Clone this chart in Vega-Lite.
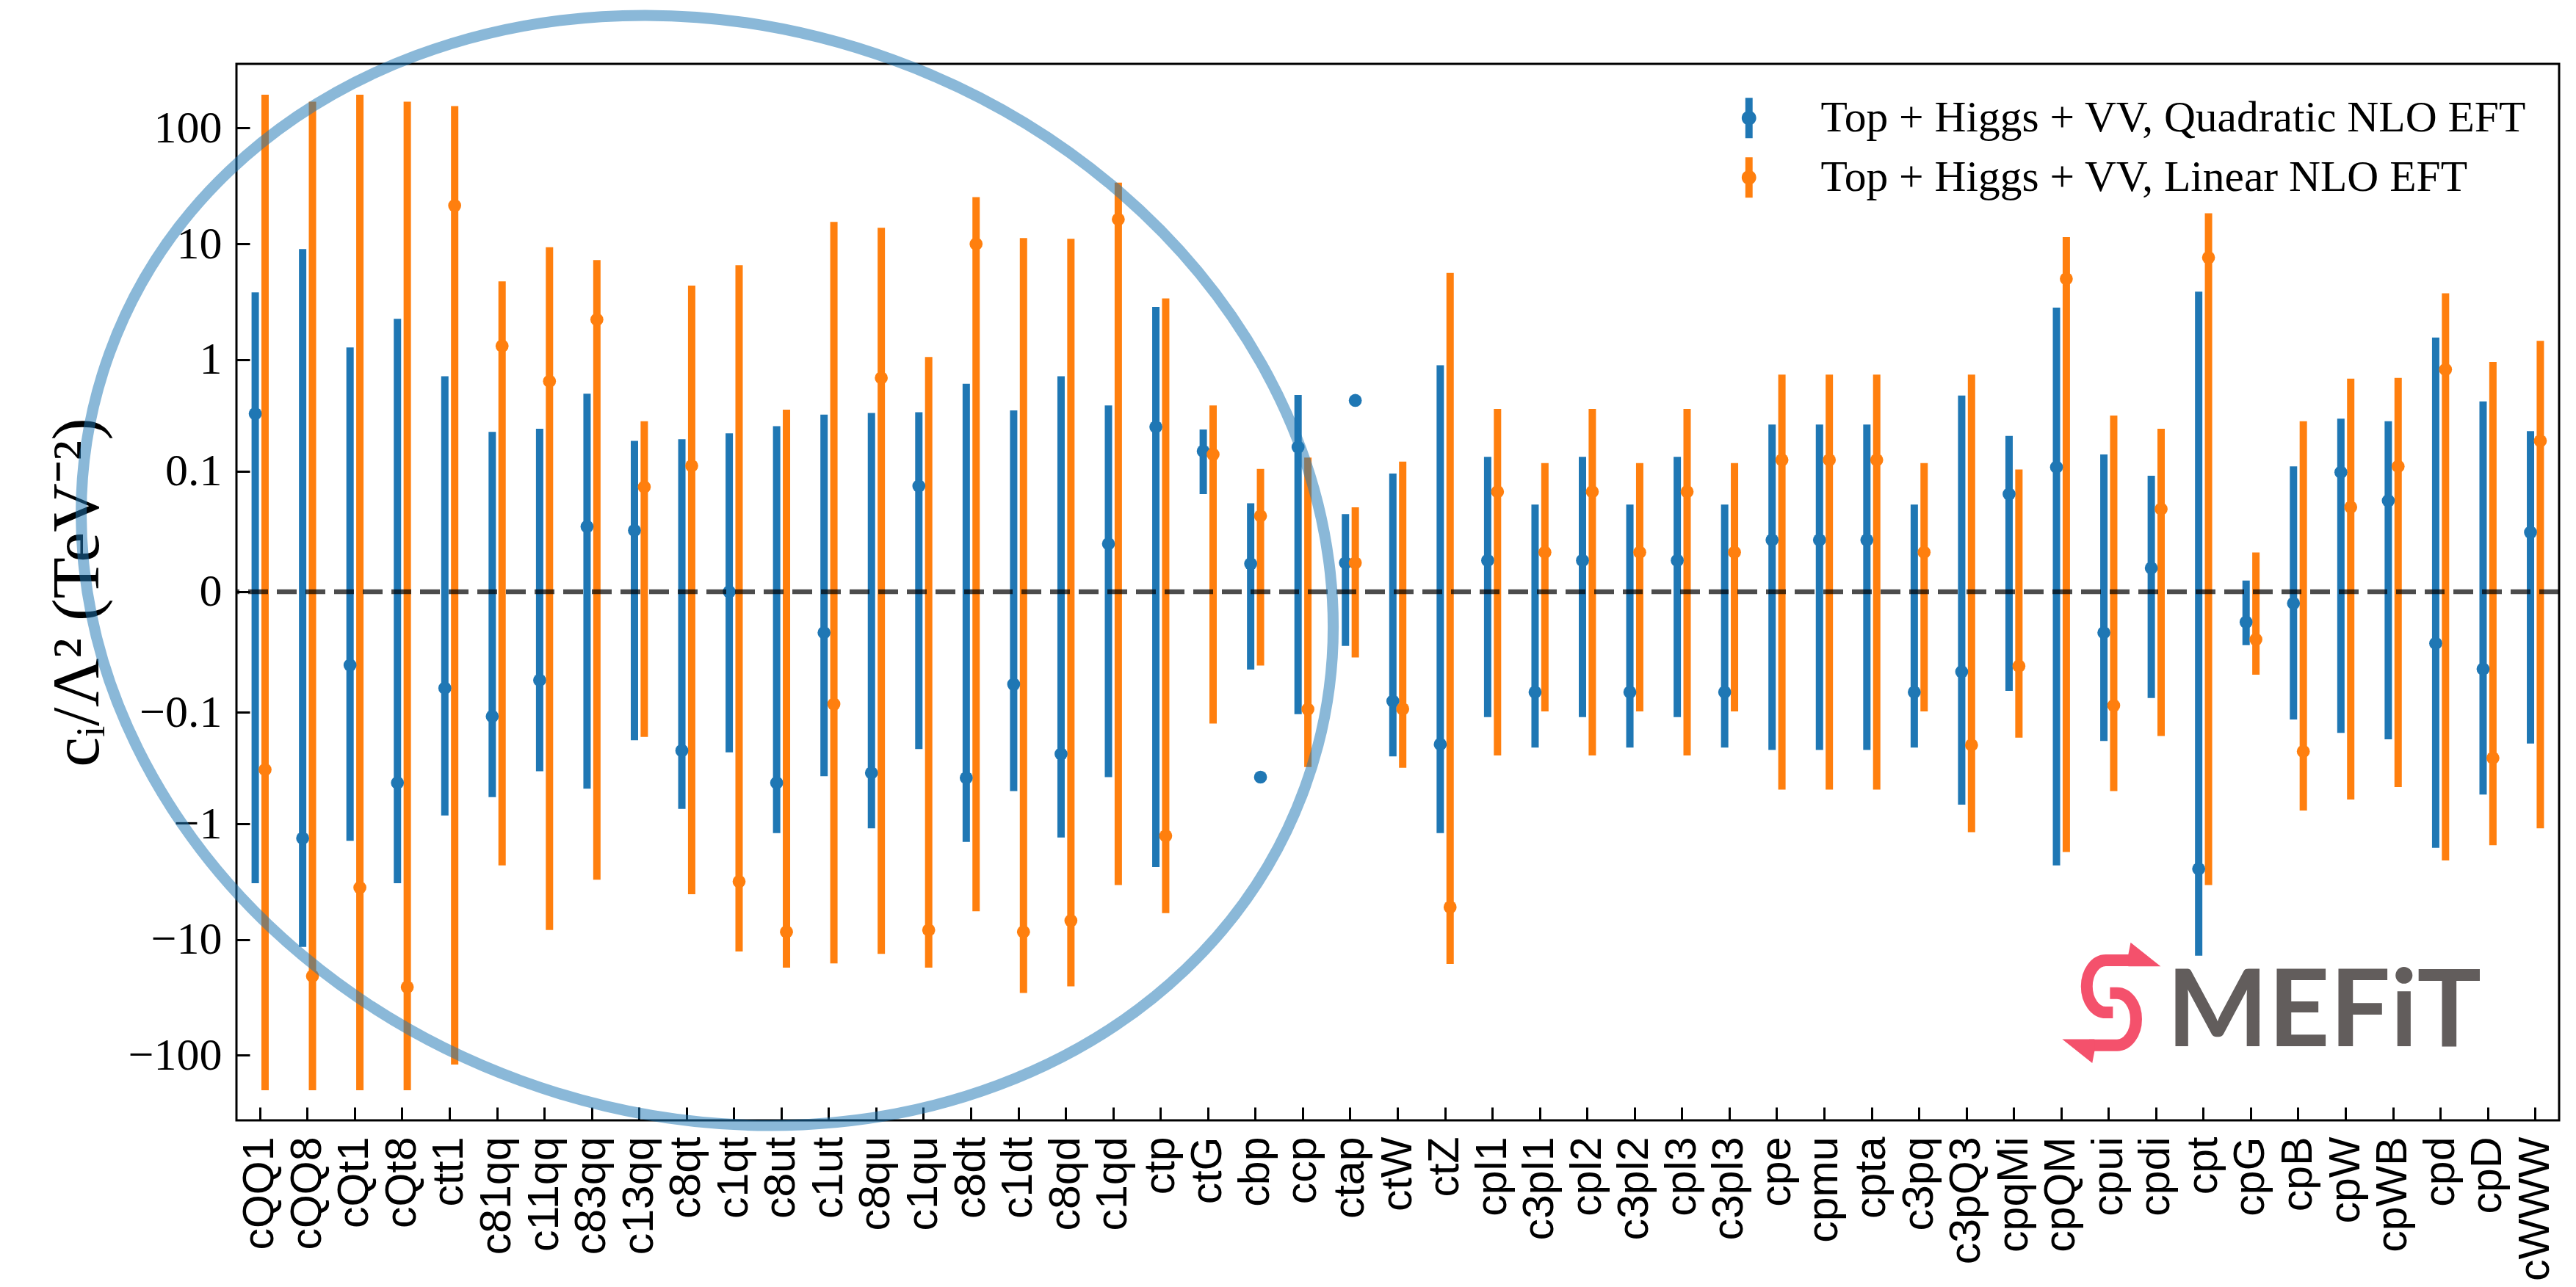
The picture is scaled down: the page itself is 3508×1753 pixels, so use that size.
{
  "$schema": "https://vega.github.io/schema/vega-lite/v6.json",
  "width": 3163,
  "height": 1439,
  "autosize": {"type": "none"},
  "padding": {"left": 322, "top": 87, "right": 23, "bottom": 227},
  "background": "white",
  "config": {"view": {"stroke": "black", "strokeWidth": 3}},
  "datasets": {
    "fits": [
      {"n":"cQQ1","s":"Top + Higgs + VV, Quadratic NLO EFT","v":0.333,"lo":-3.27,"hi":3.81},
      {"n":"cQQ1","s":"Top + Higgs + VV, Linear NLO EFT","v":-0.333,"lo":-200,"hi":194},
      {"n":"cQQ8","s":"Top + Higgs + VV, Quadratic NLO EFT","v":-1.33,"lo":-11.6,"hi":9.03},
      {"n":"cQQ8","s":"Top + Higgs + VV, Linear NLO EFT","v":-20.7,"lo":-200,"hi":169},
      {"n":"cQt1","s":"Top + Higgs + VV, Quadratic NLO EFT","v":-0.033,"lo":-1.4,"hi":1.27},
      {"n":"cQt1","s":"Top + Higgs + VV, Linear NLO EFT","v":-3.56,"lo":-200,"hi":194},
      {"n":"cQt8","s":"Top + Higgs + VV, Quadratic NLO EFT","v":-0.436,"lo":-3.27,"hi":2.25},
      {"n":"cQt8","s":"Top + Higgs + VV, Linear NLO EFT","v":-25.8,"lo":-200,"hi":169},
      {"n":"ctt1","s":"Top + Higgs + VV, Quadratic NLO EFT","v":-0.058,"lo":-0.843,"hi":0.713},
      {"n":"ctt1","s":"Top + Higgs + VV, Linear NLO EFT","v":21.4,"lo":-120,"hi":155},
      {"n":"c81qq","s":"Top + Higgs + VV, Quadratic NLO EFT","v":-0.109,"lo":-0.582,"hi":0.229},
      {"n":"c81qq","s":"Top + Higgs + VV, Linear NLO EFT","v":1.31,"lo":-2.29,"hi":4.74},
      {"n":"c11qq","s":"Top + Higgs + VV, Quadratic NLO EFT","v":-0.048,"lo":-0.344,"hi":0.245},
      {"n":"c11qq","s":"Top + Higgs + VV, Linear NLO EFT","v":0.644,"lo":-8.3,"hi":9.35},
      {"n":"c83qq","s":"Top + Higgs + VV, Quadratic NLO EFT","v":0.0265,"lo":-0.49,"hi":0.5},
      {"n":"c83qq","s":"Top + Higgs + VV, Linear NLO EFT","v":2.22,"lo":-3.05,"hi":7.24},
      {"n":"c13qq","s":"Top + Higgs + VV, Quadratic NLO EFT","v":0.0238,"lo":-0.181,"hi":0.19},
      {"n":"c13qq","s":"Top + Higgs + VV, Linear NLO EFT","v":0.07,"lo":-0.169,"hi":0.286},
      {"n":"c8qt","s":"Top + Higgs + VV, Quadratic NLO EFT","v":-0.225,"lo":-0.737,"hi":0.197},
      {"n":"c8qt","s":"Top + Higgs + VV, Linear NLO EFT","v":0.112,"lo":-4.07,"hi":4.36},
      {"n":"c1qt","s":"Top + Higgs + VV, Quadratic NLO EFT","v":0,"lo":-0.233,"hi":0.222},
      {"n":"c1qt","s":"Top + Higgs + VV, Linear NLO EFT","v":-3.16,"lo":-12.7,"hi":6.55},
      {"n":"c8ut","s":"Top + Higgs + VV, Quadratic NLO EFT","v":-0.436,"lo":-1.2,"hi":0.258},
      {"n":"c8ut","s":"Top + Higgs + VV, Linear NLO EFT","v":-8.59,"lo":-17.5,"hi":0.362},
      {"n":"c1ut","s":"Top + Higgs + VV, Quadratic NLO EFT","v":-0.0126,"lo":-0.381,"hi":0.327},
      {"n":"c1ut","s":"Top + Higgs + VV, Linear NLO EFT","v":-0.0834,"lo":-16.1,"hi":15.5},
      {"n":"c8qu","s":"Top + Higgs + VV, Quadratic NLO EFT","v":-0.356,"lo":-1.09,"hi":0.338},
      {"n":"c8qu","s":"Top + Higgs + VV, Linear NLO EFT","v":0.689,"lo":-13.3,"hi":13.8},
      {"n":"c1qu","s":"Top + Higgs + VV, Quadratic NLO EFT","v":0.0715,"lo":-0.218,"hi":0.344},
      {"n":"c1qu","s":"Top + Higgs + VV, Linear NLO EFT","v":-8.3,"lo":-17.5,"hi":1.05},
      {"n":"c8dt","s":"Top + Higgs + VV, Quadratic NLO EFT","v":-0.394,"lo":-1.43,"hi":0.612},
      {"n":"c8dt","s":"Top + Higgs + VV, Linear NLO EFT","v":10,"lo":-5.72,"hi":25.4},
      {"n":"c1dt","s":"Top + Higgs + VV, Quadratic NLO EFT","v":-0.053,"lo":-0.516,"hi":0.356},
      {"n":"c1dt","s":"Top + Higgs + VV, Linear NLO EFT","v":-8.59,"lo":-29,"hi":11.25},
      {"n":"c8qd","s":"Top + Higgs + VV, Quadratic NLO EFT","v":-0.241,"lo":-1.31,"hi":0.713},
      {"n":"c8qd","s":"Top + Higgs + VV, Linear NLO EFT","v":-6.89,"lo":-25.4,"hi":11.06},
      {"n":"c1qd","s":"Top + Higgs + VV, Quadratic NLO EFT","v":0.0159,"lo":-0.388,"hi":0.394},
      {"n":"c1qd","s":"Top + Higgs + VV, Linear NLO EFT","v":16.3,"lo":-3.38,"hi":33.8},
      {"n":"ctp","s":"Top + Higgs + VV, Quadratic NLO EFT","v":0.254,"lo":-2.37,"hi":2.86},
      {"n":"ctp","s":"Top + Higgs + VV, Linear NLO EFT","v":-1.27,"lo":-5.92,"hi":3.38},
      {"n":"ctG","s":"Top + Higgs + VV, Quadratic NLO EFT","v":0.153,"lo":0.0596,"hi":0.241},
      {"n":"ctG","s":"Top + Higgs + VV, Linear NLO EFT","v":0.143,"lo":-0.127,"hi":0.394},
      {"n":"cbp","s":"Top + Higgs + VV, Quadratic NLO EFT","v":0.0074,"lo":-0.037,"hi":0.048},
      {"n":"cbp","s":"Top + Higgs + VV, Linear NLO EFT","v":0.035,"lo":-0.0334,"hi":0.1047},
      {"n":"ccp","s":"Top + Higgs + VV, Quadratic NLO EFT","v":0.1667,"lo":-0.104,"hi":0.487},
      {"n":"ccp","s":"Top + Higgs + VV, Linear NLO EFT","v":-0.0934,"lo":-0.316,"hi":0.1334},
      {"n":"ctap","s":"Top + Higgs + VV, Quadratic NLO EFT","v":0.0077,"lo":-0.0194,"hi":0.0367},
      {"n":"ctap","s":"Top + Higgs + VV, Linear NLO EFT","v":0.0077,"lo":-0.0269,"hi":0.0435},
      {"n":"ctW","s":"Top + Higgs + VV, Quadratic NLO EFT","v":-0.078,"lo":-0.254,"hi":0.0947},
      {"n":"ctW","s":"Top + Higgs + VV, Linear NLO EFT","v":-0.0927,"lo":-0.321,"hi":0.1225},
      {"n":"ctZ","s":"Top + Higgs + VV, Quadratic NLO EFT","v":-0.197,"lo":-1.2,"hi":0.889},
      {"n":"ctZ","s":"Top + Higgs + VV, Linear NLO EFT","v":-5.26,"lo":-16.3,"hi":5.62},
      {"n":"cpl1","s":"Top + Higgs + VV, Quadratic NLO EFT","v":0.0086,"lo":-0.1107,"hi":0.1355},
      {"n":"cpl1","s":"Top + Higgs + VV, Linear NLO EFT","v":0.0629,"lo":-0.249,"hi":0.368},
      {"n":"c3pl1","s":"Top + Higgs + VV, Quadratic NLO EFT","v":-0.0636,"lo":-0.211,"hi":0.0464},
      {"n":"c3pl1","s":"Top + Higgs + VV, Linear NLO EFT","v":0.0119,"lo":-0.098,"hi":0.1185},
      {"n":"cpl2","s":"Top + Higgs + VV, Quadratic NLO EFT","v":0.0086,"lo":-0.1107,"hi":0.1355},
      {"n":"cpl2","s":"Top + Higgs + VV, Linear NLO EFT","v":0.0629,"lo":-0.249,"hi":0.368},
      {"n":"c3pl2","s":"Top + Higgs + VV, Quadratic NLO EFT","v":-0.0636,"lo":-0.211,"hi":0.0464},
      {"n":"c3pl2","s":"Top + Higgs + VV, Linear NLO EFT","v":0.0119,"lo":-0.098,"hi":0.1185},
      {"n":"cpl3","s":"Top + Higgs + VV, Quadratic NLO EFT","v":0.0086,"lo":-0.1107,"hi":0.1355},
      {"n":"cpl3","s":"Top + Higgs + VV, Linear NLO EFT","v":0.0629,"lo":-0.249,"hi":0.368},
      {"n":"c3pl3","s":"Top + Higgs + VV, Quadratic NLO EFT","v":-0.0636,"lo":-0.211,"hi":0.0464},
      {"n":"c3pl3","s":"Top + Higgs + VV, Linear NLO EFT","v":0.0119,"lo":-0.098,"hi":0.1185},
      {"n":"cpe","s":"Top + Higgs + VV, Quadratic NLO EFT","v":0.0179,"lo":-0.222,"hi":0.267},
      {"n":"cpe","s":"Top + Higgs + VV, Linear NLO EFT","v":0.127,"lo":-0.5,"hi":0.737},
      {"n":"cpmu","s":"Top + Higgs + VV, Quadratic NLO EFT","v":0.0179,"lo":-0.222,"hi":0.267},
      {"n":"cpmu","s":"Top + Higgs + VV, Linear NLO EFT","v":0.127,"lo":-0.5,"hi":0.737},
      {"n":"cpta","s":"Top + Higgs + VV, Quadratic NLO EFT","v":0.0179,"lo":-0.222,"hi":0.267},
      {"n":"cpta","s":"Top + Higgs + VV, Linear NLO EFT","v":0.127,"lo":-0.5,"hi":0.737},
      {"n":"c3pq","s":"Top + Higgs + VV, Quadratic NLO EFT","v":-0.0636,"lo":-0.211,"hi":0.0464},
      {"n":"c3pq","s":"Top + Higgs + VV, Linear NLO EFT","v":0.0119,"lo":-0.098,"hi":0.1185},
      {"n":"c3pQ3","s":"Top + Higgs + VV, Quadratic NLO EFT","v":-0.039,"lo":-0.678,"hi":0.483},
      {"n":"c3pQ3","s":"Top + Higgs + VV, Linear NLO EFT","v":-0.2,"lo":-1.18,"hi":0.737},
      {"n":"cpqMi","s":"Top + Higgs + VV, Quadratic NLO EFT","v":0.0596,"lo":-0.0616,"hi":0.211},
      {"n":"cpqMi","s":"Top + Higgs + VV, Linear NLO EFT","v":-0.0338,"lo":-0.172,"hi":0.1034},
      {"n":"cpQM","s":"Top + Higgs + VV, Quadratic NLO EFT","v":0.1088,"lo":-2.29,"hi":2.81},
      {"n":"cpQM","s":"Top + Higgs + VV, Linear NLO EFT","v":5,"lo":-1.75,"hi":11.45},
      {"n":"cpui","s":"Top + Higgs + VV, Quadratic NLO EFT","v":-0.0126,"lo":-0.184,"hi":0.143},
      {"n":"cpui","s":"Top + Higgs + VV, Linear NLO EFT","v":-0.0861,"lo":-0.516,"hi":0.321},
      {"n":"cpdi","s":"Top + Higgs + VV, Quadratic NLO EFT","v":0.006,"lo":-0.0728,"hi":0.0901},
      {"n":"cpdi","s":"Top + Higgs + VV, Linear NLO EFT","v":0.0417,"lo":-0.166,"hi":0.245},
      {"n":"cpt","s":"Top + Higgs + VV, Quadratic NLO EFT","v":-2.45,"lo":-13.8,"hi":3.87},
      {"n":"cpt","s":"Top + Higgs + VV, Linear NLO EFT","v":7.62,"lo":-3.38,"hi":18.4},
      {"n":"cpG","s":"Top + Higgs + VV, Quadratic NLO EFT","v":-0.0083,"lo":-0.0189,"hi":0.0025},
      {"n":"cpG","s":"Top + Higgs + VV, Linear NLO EFT","v":-0.0158,"lo":-0.042,"hi":0.0118},
      {"n":"cpB","s":"Top + Higgs + VV, Quadratic NLO EFT","v":-0.0026,"lo":-0.1165,"hi":0.1107},
      {"n":"cpB","s":"Top + Higgs + VV, Linear NLO EFT","v":-0.229,"lo":-0.763,"hi":0.286},
      {"n":"cpW","s":"Top + Higgs + VV, Quadratic NLO EFT","v":0.0974,"lo":-0.155,"hi":0.301},
      {"n":"cpW","s":"Top + Higgs + VV, Linear NLO EFT","v":0.0437,"lo":-0.612,"hi":0.678},
      {"n":"cpWB","s":"Top + Higgs + VV, Quadratic NLO EFT","v":0.051,"lo":-0.178,"hi":0.286},
      {"n":"cpWB","s":"Top + Higgs + VV, Linear NLO EFT","v":0.1107,"lo":-0.474,"hi":0.689},
      {"n":"cpd","s":"Top + Higgs + VV, Quadratic NLO EFT","v":-0.0179,"lo":-1.61,"hi":1.55},
      {"n":"cpd","s":"Top + Higgs + VV, Linear NLO EFT","v":0.816,"lo":-2.07,"hi":3.75},
      {"n":"cpD","s":"Top + Higgs + VV, Quadratic NLO EFT","v":-0.0364,"lo":-0.553,"hi":0.428},
      {"n":"cpD","s":"Top + Higgs + VV, Linear NLO EFT","v":-0.262,"lo":-1.53,"hi":0.951},
      {"n":"cWWW","s":"Top + Higgs + VV, Quadratic NLO EFT","v":0.0225,"lo":-0.194,"hi":0.233},
      {"n":"cWWW","s":"Top + Higgs + VV, Linear NLO EFT","v":0.19,"lo":-1.09,"hi":1.45}
    ],
    "extra": [
      {"n":"cbp","v":-0.388},
      {"n":"ctap","v":0.437}
    ],
    "logo": [{"n":"cpB","v":-83.4,"t":"MEFiT"}],
    "icon": [{"n":"cpui","v":-35.2}],
    "ring": [{"n":"c8qt","v":0}]
  },
  "layer": [
    {
      "data": {"name": "fits"},
      "mark": {"type": "rule", "strokeWidth": 10, "strokeCap": "butt"},
      "encoding": {
        "x": {
          "field": "n", "type": "nominal",
          "scale": {"domain": ["cQQ1","cQQ8","cQt1","cQt8","ctt1","c81qq","c11qq","c83qq","c13qq","c8qt","c1qt","c8ut","c1ut","c8qu","c1qu","c8dt","c1dt","c8qd","c1qd","ctp","ctG","cbp","ccp","ctap","ctW","ctZ","cpl1","c3pl1","cpl2","c3pl2","cpl3","c3pl3","cpe","cpmu","cpta","c3pq","c3pQ3","cpqMi","cpQM","cpui","cpdi","cpt","cpG","cpB","cpW","cpWB","cpd","cpD","cWWW"], "paddingInner": 0.585, "paddingOuter": 0.2925},
          "axis": {"title": null, "labelAngle": -90, "labelFont": "Liberation Sans", "labelFontSize": 59, "labelColor": "black", "labelPadding": 40, "labelLimit": 500, "labelOverlap": false, "tickSize": -18, "tickWidth": 3, "tickColor": "black", "domain": false, "grid": false}
        },
        "xOffset": {"field": "s", "type": "nominal", "scale": {"domain": ["Top + Higgs + VV, Quadratic NLO EFT", "Top + Higgs + VV, Linear NLO EFT"]}},
        "y": {
          "field": "lo", "type": "quantitative",
          "scale": {"type": "symlog", "constant": 0.01, "domain": [-364, 358], "nice": false, "zero": false},
          "axis": {"title": "cᵢ/Λ²  (TeV⁻²)", "titleFont": "Liberation Serif", "titleFontSize": 92, "titleFontWeight": "normal", "titleColor": "black", "titlePadding": 22, "values": [-100, -10, -1, -0.1, 0, 0.1, 1, 10, 100], "format": "~r", "labelFont": "Liberation Serif", "labelFontSize": 62, "labelColor": "black", "labelPadding": 38, "labelOverlap": false, "tickSize": -18, "tickWidth": 3, "tickColor": "black", "domain": false, "grid": false}
        },
        "y2": {"field": "hi"},
        "color": {
          "field": "s", "type": "nominal",
          "scale": {"domain": ["Top + Higgs + VV, Quadratic NLO EFT", "Top + Higgs + VV, Linear NLO EFT"], "range": ["#1f77b4", "#ff7f0e"]},
          "legend": {
            "orient": "top-right", "offset": 44, "padding": 0, "title": null,
            "labelFont": "Liberation Serif", "labelFontSize": 59.5, "labelColor": "black", "labelLimit": 0, "labelOffset": 68,
            "symbolType": "M -0.18 -1 L 0.18 -1 L 0.18 1 L -0.18 1 Z M 0.36 0 A 0.36 0.36 0 1 1 -0.36 0 A 0.36 0.36 0 1 1 0.36 0 Z",
            "symbolSize": 3025, "symbolStrokeWidth": 0, "rowPadding": 20,
            "encode": {"symbols": {"update": {"fill": {"scale": "color", "field": "value"}, "stroke": {"value": "transparent"}, "opacity": {"value": 1}}}}
          }
        }
      }
    },
    {
      "data": {"name": "fits"},
      "mark": {"type": "point", "filled": true, "size": 314, "opacity": 1, "strokeWidth": 0},
      "encoding": {
        "x": {"field": "n", "type": "nominal"},
        "xOffset": {"field": "s", "type": "nominal"},
        "y": {"field": "v", "type": "quantitative"},
        "color": {"field": "s", "type": "nominal"}
      }
    },
    {
      "data": {"name": "extra"},
      "mark": {"type": "point", "filled": true, "size": 314, "opacity": 1, "strokeWidth": 0, "color": "#1f77b4"},
      "encoding": {
        "x": {"field": "n", "type": "nominal"},
        "xOffset": {"datum": "Top + Higgs + VV, Linear NLO EFT"},
        "y": {"field": "v", "type": "quantitative"}
      }
    },
    {
      "data": {"values": [{}]},
      "mark": {"type": "rule", "strokeDash": [27, 12], "strokeWidth": 6.5, "color": "black", "opacity": 0.7},
      "encoding": {"y": {"datum": 0}}
    },
    {
      "data": {"name": "logo"},
      "mark": {"type": "text", "font": "Lato", "fontWeight": "bold", "fontSize": 146, "color": "#625d5c", "align": "center", "baseline": "alphabetic", "dx": 35},
      "encoding": {
        "x": {"field": "n", "type": "nominal"},
        "y": {"field": "v", "type": "quantitative"},
        "text": {"field": "t"}
      }
    },
    {
      "data": {"name": "icon"},
      "mark": {"type": "point", "filled": false, "opacity": 1, "size": 40000, "stroke": "#f4516c", "strokeWidth": 16, "shape": "M 0.34 -0.578 L -0.04 -0.578 A 0.26 0.355 0 0 0 -0.04 0.132 L 0.056 0.132 M -0.268 0.578 L 0.112 0.578 A 0.26 0.355 0 0 0 0.112 -0.132 L 0.016 -0.132"},
      "encoding": {
        "x": {"field": "n", "type": "nominal"},
        "y": {"field": "v", "type": "quantitative"}
      }
    },
    {
      "data": {"name": "icon"},
      "mark": {"type": "point", "filled": true, "opacity": 1, "size": 40000, "fill": "#f4516c", "strokeWidth": 0, "shape": "M 0.266 -0.658 L 0.297 -0.822 L 0.706 -0.497 L 0.266 -0.497 Z M -0.194 0.658 L -0.225 0.822 L -0.634 0.497 L -0.194 0.497 Z"},
      "encoding": {
        "x": {"field": "n", "type": "nominal"},
        "y": {"field": "v", "type": "quantitative"}
      }
    },
    {
      "data": {"name": "ring"},
      "mark": {"type": "point", "filled": false, "opacity": 1, "size": 2999824, "stroke": "#1f77b4", "strokeOpacity": 0.52, "strokeWidth": 15, "shape": "M -0.9076 -0.3755 A 1 0.8545 20 1 1 0.9718 0.3085 A 1 0.8545 20 1 1 -0.9076 -0.3755 Z"},
      "encoding": {
        "x": {"field": "n", "type": "nominal"},
        "y": {"field": "v", "type": "quantitative"}
      }
    }
  ]
}
